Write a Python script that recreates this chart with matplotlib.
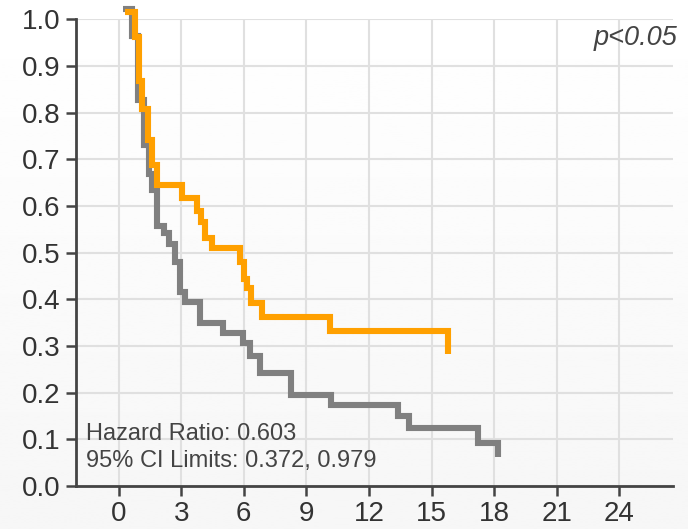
import numpy as np
import matplotlib
matplotlib.use("Agg")
import matplotlib.pyplot as plt

plt.rcParams['font.family'] = ['Liberation Sans', 'DejaVu Sans']

# Kaplan-Meier step curves (time, survival) for the two groups
gray_time = [0.20, 0.62, 0.91, 1.22, 1.44, 1.58, 1.84, 2.16, 2.40, 2.71, 2.95, 3.16,
             3.90, 5.01, 5.97, 6.30, 6.78, 8.27, 10.18, 13.39, 13.92, 17.22, 18.18]
gray_surv = [1.021, 0.965, 0.827, 0.731, 0.669, 0.634, 0.557, 0.542, 0.519, 0.480, 0.416, 0.394,
             0.349, 0.328, 0.306, 0.279, 0.242, 0.195, 0.174, 0.150, 0.124, 0.092, 0.062]

orange_time = [0.31, 0.77, 0.96, 1.10, 1.41, 1.61, 1.84, 3.02, 3.76, 3.95, 4.12, 4.48,
               5.80, 5.99, 6.16, 6.35, 6.85, 10.13, 15.79]
orange_surv = [1.015, 0.963, 0.868, 0.807, 0.742, 0.687, 0.644, 0.618, 0.590, 0.565, 0.532, 0.509,
               0.480, 0.444, 0.424, 0.392, 0.362, 0.332, 0.282]

x_ticks = [0, 3, 6, 9, 12, 15, 18, 21, 24]
y_ticks = [0.0, 0.1, 0.2, 0.3, 0.4, 0.5, 0.6, 0.7, 0.8, 0.9, 1.0]

hazard_text = "Hazard Ratio: 0.603"
ci_text = "95% CI Limits: 0.372, 0.979"
p_text = "p<0.05"

fig = plt.figure(figsize=(6.88, 5.29), dpi=100)

# soft vertical background shading
bg = fig.add_axes([0, 0, 1, 1], zorder=-10)
grad = np.linspace(1.0, 0.965, 256).reshape(-1, 1)
bg.imshow(grad, aspect='auto', cmap='gray', vmin=0, vmax=1, extent=[0, 1, 0, 1])
bg.axis('off')

ax = fig.add_axes([76 / 688, 43 / 529, (673 - 76) / 688, (486 - 19.3) / 529])
ax.patch.set_alpha(0)

ax.plot(gray_time, gray_surv, drawstyle='steps-post', color='#808080', lw=4.4,
        solid_capstyle='butt', solid_joinstyle='miter', clip_on=False, zorder=3)
ax.plot(orange_time, orange_surv, drawstyle='steps-post', color='#ffa000', lw=4.4,
        solid_capstyle='butt', solid_joinstyle='miter', clip_on=False, zorder=4)

ax.set_xlim(-2.04, 26.57)
ax.set_ylim(0, 1.0)
ax.set_xticks(x_ticks)
ax.set_yticks(y_ticks)
ax.set_yticklabels([f"{v:.1f}" for v in y_ticks])

ax.grid(True, color='#e0e0e0', lw=1.5, zorder=0)
ax.set_axisbelow(True)

for side in ('top', 'right'):
    ax.spines[side].set_visible(False)
for side in ('left', 'bottom'):
    ax.spines[side].set_color('#444444')
    ax.spines[side].set_linewidth(2)

ax.tick_params(axis='both', direction='out', length=7, width=1.8, color='#444444',
               labelsize=20, labelcolor='#333333', pad=4)

ax.text(0.016, 0.0986, hazard_text, transform=ax.transAxes, fontsize=17,
        color='#444444', ha='left', va='baseline')
ax.text(0.016, 0.0407, ci_text, transform=ax.transAxes, fontsize=17,
        color='#444444', ha='left', va='baseline')
ax.text(1.008, 0.945, p_text, transform=ax.transAxes, fontsize=19.5, style='italic',
        color='#444444', ha='right', va='baseline')

fig.savefig('out.png', dpi=100)
